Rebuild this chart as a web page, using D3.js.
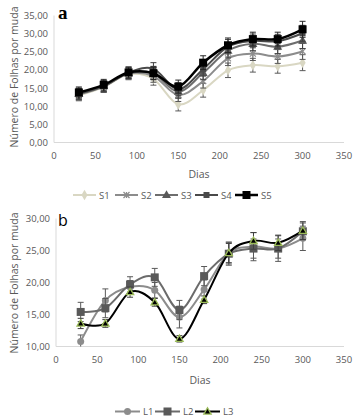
<!DOCTYPE html>
<html>
<head>
<meta charset="utf-8">
<script src="https://cdn.jsdelivr.net/npm/d3@7"></script>
<style>
  body { margin: 0; background: #fff; }
  svg { display: block; font-family: "Open Sans", "Liberation Sans", sans-serif; }
</style>
</head>
<body>
<div id="chart"></div>
<script>
// Days (x values) shared by both panels
const dias = [30, 60, 90, 120, 150, 180, 210, 240, 270, 300];

// Panel a - S1..S5
const seriesA = ["S1", "S2", "S3", "S4", "S5"];
const s1 = [13.0, 15.3, 18.8, 17.5, 10.5, 14.4, 19.9, 21.3, 21.0, 22.0];
const s2 = [13.2, 15.4, 19.0, 18.3, 13.1, 16.9, 23.2, 24.5, 23.7, 25.1];
const s3 = [13.4, 15.5, 19.1, 19.0, 14.0, 19.2, 25.3, 27.2, 26.4, 28.1];
const s4 = [13.5, 15.6, 19.3, 20.3, 14.7, 20.2, 26.4, 28.0, 27.9, 30.1];
const s5 = [13.8, 15.9, 19.3, 19.1, 15.4, 22.0, 26.8, 28.5, 28.5, 31.2];
const errA = [1.5, 1.5, 1.5, 1.7, 1.8, 1.9, 2.0, 1.9, 1.9, 2.2];

// Panel b - L1..L3
const seriesB = ["L1", "L2", "L3"];
const l1 = [10.8, 17.2, 19.3, 18.8, 14.6, 18.9, 24.6, 25.6, 25.3, 26.9];
const l2 = [15.4, 16.0, 19.7, 20.8, 15.7, 21.0, 24.5, 25.3, 25.3, 28.0];
const l3 = [13.6, 13.6, 18.5, 16.9, 11.2, 17.3, 24.6, 26.5, 26.2, 28.1];
const errL1 = [1.0, 1.8, 1.0, 1.2, 1.7, 1.5, 1.7, 2.2, 2.0, 1.9];
const errL2 = [1.5, 1.5, 1.2, 1.4, 1.5, 1.5, 1.8, 1.5, 1.5, 1.3];
const errL3 = [0.8, 0.6, 0.8, 0.6, 0.5, 0.6, 1.5, 1.3, 1.2, 1.4];

const xTicks = [0, 50, 100, 150, 200, 250, 300, 350];
const yTicksA = [0, 5, 10, 15, 20, 25, 30, 35];
const yTicksB = [10, 15, 20, 25, 30];

const fmt = d => d.toFixed(2).replace(".", ",");

const svg = d3.select("#chart").append("svg")
  .attr("width", 357)
  .attr("height", 419);

const line = d3.line().curve(d3.curveCardinal.tension(0));

// marker drawing helper
function marker(g, type, x, y, size, fill, stroke, sw) {
  if (type === "circle") {
    g.append("circle").attr("cx", x).attr("cy", y).attr("r", size / 2)
      .attr("fill", fill).attr("stroke", stroke || "none").attr("stroke-width", sw || 0);
  } else if (type === "square") {
    g.append("rect").attr("x", x - size / 2).attr("y", y - size / 2)
      .attr("width", size).attr("height", size)
      .attr("fill", fill).attr("stroke", stroke || "none").attr("stroke-width", sw || 0);
  } else if (type === "diamond") {
    g.append("path").attr("d", d3.symbol(d3.symbolDiamond, size * size * 0.9)())
      .attr("transform", `translate(${x},${y})`).attr("fill", fill);
  } else if (type === "triangle") {
    g.append("path").attr("d", d3.symbol(d3.symbolTriangle, size * size * 0.55)())
      .attr("transform", `translate(${x},${y + 0.5})`)
      .attr("fill", fill).attr("stroke", stroke || "none").attr("stroke-width", sw || 0);
  } else if (type === "star") {
    const r = size / 2;
    const p = g.append("g").attr("transform", `translate(${x},${y})`)
      .attr("stroke", fill).attr("stroke-width", 1.2);
    p.append("line").attr("x1", -r).attr("x2", r).attr("y1", -r).attr("y2", r);
    p.append("line").attr("x1", -r).attr("x2", r).attr("y1", r).attr("y2", -r);
    p.append("line").attr("x1", 0).attr("x2", 0).attr("y1", -r).attr("y2", r);
  }
}

function panel(cfg) {
  const x = d3.scaleLinear().domain([0, 350]).range(cfg.xRange);
  const y = d3.scaleLinear().domain(cfg.yDomain).range(cfg.yRange);
  const g = svg.append("g");

  // axis lines
  g.append("line").attr("x1", cfg.xRange[0]).attr("x2", cfg.xRange[1])
    .attr("y1", cfg.yRange[0]).attr("y2", cfg.yRange[0])
    .attr("stroke", "#d9d9d9").attr("stroke-width", 1);
  g.append("line").attr("x1", cfg.xRange[0]).attr("x2", cfg.xRange[0])
    .attr("y1", cfg.yRange[0]).attr("y2", cfg.yRange[1])
    .attr("stroke", "#d9d9d9").attr("stroke-width", 1);

  // tick labels
  g.selectAll(".xt").data(xTicks).enter().append("text")
    .attr("x", d => x(d)).attr("y", cfg.yRange[0] + 16)
    .attr("text-anchor", "middle").attr("font-size", "9.5px").attr("fill", "#595959")
    .text(d => d);
  g.selectAll(".yt").data(cfg.yTicks).enter().append("text")
    .attr("x", cfg.xRange[0] - 6).attr("y", d => y(d) + 3.5)
    .attr("text-anchor", "end").attr("font-size", "9.5px").attr("fill", "#595959")
    .text(fmt);

  // axis titles
  g.append("text").attr("x", cfg.diasX).attr("y", cfg.diasY)
    .attr("text-anchor", "middle").attr("font-size", "10.5px").attr("fill", "#595959")
    .text("Dias");
  g.append("text")
    .attr("transform", `translate(18,${cfg.titleY}) rotate(-90)`)
    .attr("text-anchor", "middle").attr("font-size", "10.5px").attr("fill", "#595959")
    .text("Número de Folhas por muda");

  // panel letter
  g.append("text").attr("x", 58).attr("y", cfg.letterY)
    .attr("font-family", cfg.letterFont).attr("font-weight", cfg.letterWeight)
    .attr("font-size", cfg.letterSize).attr("fill", "#000")
    .text(cfg.letter);

  const clamp = v => Math.max(cfg.yDomain[0], Math.min(cfg.yDomain[1], v));

  cfg.series.forEach(s => {
    const sg = g.append("g");
    // error bars
    s.values.forEach((v, i) => {
      const cx = x(dias[i]);
      const lo = y(clamp(v - s.err[i])), hi = y(clamp(v + s.err[i]));
      sg.append("line").attr("x1", cx).attr("x2", cx).attr("y1", lo).attr("y2", hi)
        .attr("stroke", s.errColor).attr("stroke-width", 1);
      [lo, hi].forEach(yy => {
        if (yy === y(cfg.yDomain[0])) return;
        sg.append("line").attr("x1", cx - 3).attr("x2", cx + 3).attr("y1", yy).attr("y2", yy)
          .attr("stroke", s.errColor).attr("stroke-width", 1);
      });
    });
    sg.append("path")
      .attr("d", line(s.values.map((v, i) => [x(dias[i]), y(v)])))
      .attr("fill", "none").attr("stroke", s.color).attr("stroke-width", s.width);
    s.values.forEach((v, i) => {
      marker(sg, s.marker, x(dias[i]), y(v), s.size, s.markerColor, s.markerStroke, s.markerSw);
    });
  });

  // legend
  const lg = g.append("g");
  cfg.series.forEach((s, i) => {
    const lx = cfg.legendX[i];
    lg.append("line").attr("x1", lx).attr("x2", lx + cfg.legendLen)
      .attr("y1", cfg.legendY).attr("y2", cfg.legendY)
      .attr("stroke", s.color).attr("stroke-width", s.width);
    marker(lg, s.marker, lx + cfg.legendLen / 2, cfg.legendY, s.size, s.markerColor, s.markerStroke, s.markerSw);
    lg.append("text").attr("x", lx + cfg.legendLen + 3).attr("y", cfg.legendY + 3.5)
      .attr("font-size", "9.5px").attr("fill", "#595959").text(s.name);
  });
}

panel({
  xRange: [54, 344], yDomain: [0, 35], yRange: [142.5, 15.5], yTicks: yTicksA,
  diasX: 199, diasY: 178, titleY: 77,
  letter: "a", letterY: 19, letterFont: "'Liberation Serif', serif", letterWeight: "bold", letterSize: "19px",
  legendX: [73, 115, 155, 195, 235], legendLen: 23, legendY: 195,
  series: [
    { name: seriesA[0], values: s1, err: errA, color: "#d9d7c3", width: 2, marker: "diamond", size: 6, markerColor: "#d9d7c3", errColor: "#595959" },
    { name: seriesA[1], values: s2, err: errA, color: "#8c8c8c", width: 2, marker: "star", size: 6, markerColor: "#8c8c8c", errColor: "#595959" },
    { name: seriesA[2], values: s3, err: errA, color: "#6e6e6e", width: 2, marker: "triangle", size: 8, markerColor: "#595959", errColor: "#404040" },
    { name: seriesA[3], values: s4, err: errA, color: "#4a4a4a", width: 2, marker: "square", size: 6, markerColor: "#4a4a4a", errColor: "#404040" },
    { name: seriesA[4], values: s5, err: errA, color: "#000", width: 2.5, marker: "square", size: 8, markerColor: "#000", errColor: "#262626" }
  ]
});

panel({
  xRange: [56, 344], yDomain: [10, 30], yRange: [346.5, 218.5], yTicks: yTicksB,
  diasX: 200, diasY: 384, titleY: 283,
  letter: "b", letterY: 226, letterFont: "'Open Sans', sans-serif", letterWeight: "normal", letterSize: "16px",
  legendX: [115, 155, 195], legendLen: 25, legendY: 411.5,
  series: [
    { name: seriesB[0], values: l1, err: errL1, color: "#8c8c8c", width: 2, marker: "circle", size: 7, markerColor: "#8c8c8c", errColor: "#595959" },
    { name: seriesB[1], values: l2, err: errL2, color: "#6b6b6b", width: 2, marker: "square", size: 8, markerColor: "#595959", errColor: "#595959" },
    { name: seriesB[2], values: l3, err: errL3, color: "#000", width: 2, marker: "triangle", size: 6.5, markerColor: "#000", markerStroke: "#9bbb59", markerSw: 1.3, errColor: "#404040" }
  ]
});
</script>
</body>
</html>
